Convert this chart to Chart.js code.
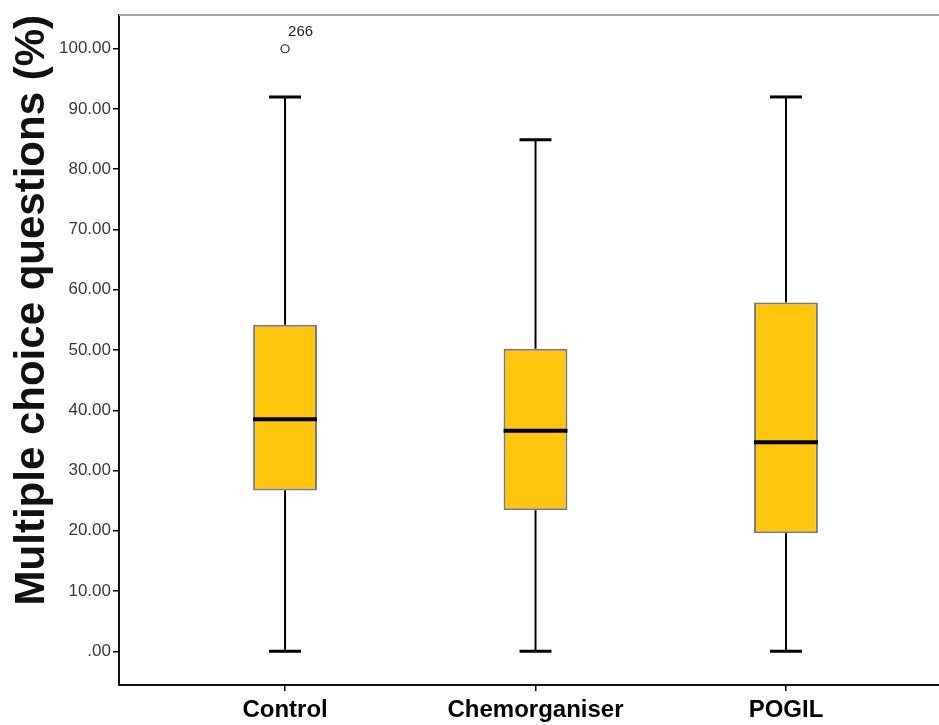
<!DOCTYPE html>
<html>
<head>
<meta charset="utf-8">
<script src="https://cdn.jsdelivr.net/npm/chart.js@4.4.1/dist/chart.umd.min.js"></script>
<style>
  html, body { margin: 0; padding: 0; background: #ffffff; }
  #wrap { width: 939px; height: 725px; }
</style>
</head>
<body>
<div id="wrap"><canvas id="c" width="939" height="725"></canvas></div>
<script>
// ---- data ----
const categories = ['Control', 'Chemorganiser', 'POGIL'];
const whiskerLow  = [0, 0, 0];
const quartile1   = [26.7, 23.4, 19.6];
const medians     = [38.5, 36.6, 34.7];
const quartile3   = [54.2, 50.2, 57.9];
const whiskerHigh = [92.0, 84.9, 92.0];
const outlierCategory = [1];       // 1-based category position
const outlierValues   = [100];
const outlierLabels   = ['266'];
const yTickValues = [0, 10, 20, 30, 40, 50, 60, 70, 80, 90, 100];
const yTickLabels = ['.00', '10.00', '20.00', '30.00', '40.00', '50.00', '60.00', '70.00', '80.00', '90.00', '100.00'];
const yTitle = 'Multiple choice questions (%)';

const boxData = categories.map((c, i) => ({ x: i + 1, y: [quartile1[i], quartile3[i]] }));
const outlierData = outlierValues.map((v, i) => ({ x: outlierCategory[i], y: v }));

const boxPlugin = {
  id: 'boxWhiskers',
  afterDatasetsDraw(chart) {
    const { ctx, chartArea, scales: { x, y } } = chart;
    const meta = chart.getDatasetMeta(0);
    ctx.save();
    // top frame line
    ctx.strokeStyle = '#a3a3a3';
    ctx.lineWidth = 2;
    ctx.beginPath();
    ctx.moveTo(chartArea.left, chartArea.top);
    ctx.lineTo(chartArea.right, chartArea.top);
    ctx.stroke();

    const line = (x1, y1, x2, y2) => { ctx.beginPath(); ctx.moveTo(x1, y1); ctx.lineTo(x2, y2); ctx.stroke(); };
    categories.forEach((c, i) => {
      const bar = meta.data[i];
      const cx = x.getPixelForValue(i + 1);
      const half = bar.width / 2;
      const yLo = y.getPixelForValue(whiskerLow[i]);
      const yHi = y.getPixelForValue(whiskerHigh[i]);
      const yQ1 = y.getPixelForValue(quartile1[i]);
      const yQ3 = y.getPixelForValue(quartile3[i]);
      const yMed = y.getPixelForValue(medians[i]);
      ctx.strokeStyle = '#000';
      ctx.lineWidth = 2;
      line(cx, yQ3, cx, yHi);
      line(cx, yQ1, cx, yLo);
      ctx.lineWidth = 3;
      line(cx - half / 2, yHi, cx + half / 2, yHi);
      line(cx - half / 2, yLo, cx + half / 2, yLo);
      ctx.lineWidth = 4;
      line(cx - half, yMed, cx + half, yMed);
    });
    // outlier labels
    ctx.fillStyle = '#222';
    ctx.font = '15px "Liberation Sans", Arial, sans-serif';
    ctx.textAlign = 'left';
    ctx.textBaseline = 'middle';
    outlierValues.forEach((v, i) => {
      const px = x.getPixelForValue(outlierCategory[i]);
      const py = y.getPixelForValue(v);
      ctx.fillText(outlierLabels[i], px + 3, py - 17);
    });
    ctx.restore();
  }
};

new Chart(document.getElementById('c'), {
  type: 'bar',
  data: {
    datasets: [
      {
        type: 'bar',
        data: boxData,
        backgroundColor: '#ffc60d',
        borderColor: '#7a7a7a',
        borderWidth: 2,
        borderSkipped: false,
        barPercentage: 0.51,
        categoryPercentage: 0.5
      },
      {
        type: 'scatter',
        data: outlierData,
        pointStyle: 'circle',
        pointRadius: 4,
        pointBorderWidth: 1.2,
        pointBorderColor: '#222',
        pointBackgroundColor: '#ffffff'
      }
    ]
  },
  options: {
    responsive: false,
    animation: false,
    layout: { autoPadding: false, padding: { top: 15, left: 0, right: 0, bottom: 0 } },
    plugins: { legend: { display: false }, tooltip: { enabled: false } },
    scales: {
      x: {
        type: 'linear',
        offset: false,
        min: 0.337,
        max: 3.611,
        afterBuildTicks: (s) => { s.ticks = categories.map((c, i) => ({ value: i + 1 })); },
        afterFit: (s) => { s.height = 40; },
        ticks: {
          callback: (v) => categories[Math.round(v) - 1],
          autoSkip: false,
          maxRotation: 0,
          color: '#000',
          padding: 5,
          font: { family: '"Liberation Sans", Arial, sans-serif', size: 24, weight: 'bold' }
        },
        grid: { offset: false, drawOnChartArea: false, drawTicks: true, tickLength: 6, color: '#000', lineWidth: 1.5 },
        border: { display: true, color: '#111', width: 2 }
      },
      y: {
        type: 'linear',
        min: -5.6,
        max: 105.6,
        afterBuildTicks: (s) => { s.ticks = yTickValues.map(v => ({ value: v })); },
        afterFit: (s) => { s.width = 119; },
        ticks: {
          callback: (v) => yTickLabels[yTickValues.indexOf(v)],
          color: '#3a3a3a',
          padding: 2,
          font: { family: '"Liberation Sans", Arial, sans-serif', size: 17 }
        },
        grid: { drawOnChartArea: false, drawTicks: true, tickLength: 6, color: '#000', lineWidth: 1.5 },
        border: { display: true, color: '#111', width: 2 },
        title: {
          display: true,
          text: yTitle,
          align: 'end',
          color: '#111',
          padding: { top: 7, bottom: 0 },
          font: { family: '"Liberation Sans", Arial, sans-serif', size: 42, weight: 'bold' }
        }
      }
    }
  },
  plugins: [boxPlugin]
});
</script>
</body>
</html>
